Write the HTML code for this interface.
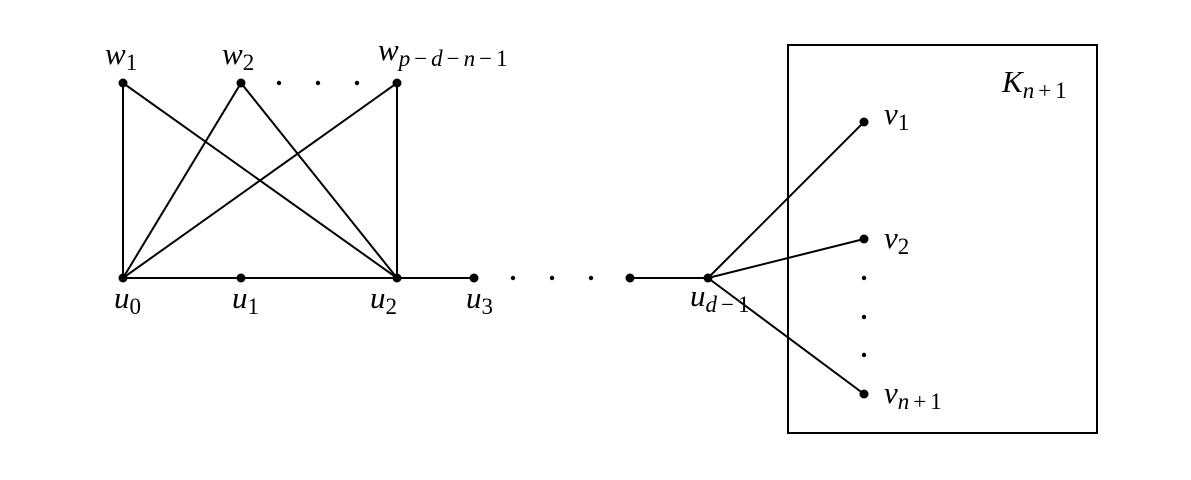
<!DOCTYPE html>
<html><head><style>body{margin:0;background:#fff}svg{display:block}.s{font-size:23px;font-style:normal}</style></head>
<body>
<svg width="1191" height="480" xmlns="http://www.w3.org/2000/svg" font-family="Liberation Serif, serif" font-style="italic">
<g stroke="#000" stroke-width="2" fill="none">
<rect x="788" y="45" width="309" height="388"/>
<line x1="123" y1="83" x2="123" y2="278"/>
<line x1="123" y1="83" x2="397" y2="278"/>
<line x1="241" y1="83" x2="123" y2="278"/>
<line x1="241" y1="83" x2="397" y2="278"/>
<line x1="397" y1="83" x2="123" y2="278"/>
<line x1="397" y1="83" x2="397" y2="278"/>
<line x1="123" y1="278" x2="474" y2="278"/>
<line x1="630" y1="278" x2="708" y2="278"/>
<line x1="708" y1="278" x2="864" y2="122"/>
<line x1="708" y1="278" x2="864" y2="239"/>
<line x1="708" y1="278" x2="864" y2="394"/>
</g>
<g fill="#000">
<circle cx="123" cy="83" r="4.5"/><circle cx="241" cy="83" r="4.5"/><circle cx="397" cy="83" r="4.5"/>
<circle cx="123" cy="278" r="4.5"/><circle cx="241" cy="278" r="4.5"/><circle cx="397" cy="278" r="4.5"/>
<circle cx="474" cy="278" r="4.5"/><circle cx="630" cy="278" r="4.5"/><circle cx="708" cy="278" r="4.5"/>
<circle cx="864" cy="122" r="4.5"/><circle cx="864" cy="239" r="4.5"/><circle cx="864" cy="394" r="4.5"/>
<circle cx="279" cy="83" r="2.2"/><circle cx="318" cy="83" r="2.2"/><circle cx="357" cy="83" r="2.2"/>
<circle cx="513" cy="278" r="2.2"/><circle cx="552" cy="278" r="2.2"/><circle cx="591" cy="278" r="2.2"/>
<circle cx="864" cy="278" r="2.2"/><circle cx="864" cy="317" r="2.2"/><circle cx="864" cy="355" r="2.2"/>
</g>
<g font-size="31" fill="#000">
<text x="105" y="64">w<tspan class="s" dy="6">1</tspan></text>
<text x="222" y="64">w<tspan class="s" dy="6">2</tspan></text>
<text x="378" y="60">w<tspan font-size="23" dy="6">p</tspan><tspan class="s" dx="4">−</tspan><tspan font-size="23" dx="4">d</tspan><tspan class="s" dx="4">−</tspan><tspan font-size="23" dx="4">n</tspan><tspan class="s" dx="4">−</tspan><tspan class="s" dx="4">1</tspan></text>
<text x="114" y="308">u<tspan class="s" dy="6">0</tspan></text>
<text x="232" y="308">u<tspan class="s" dy="6">1</tspan></text>
<text x="370" y="308">u<tspan class="s" dy="6">2</tspan></text>
<text x="466" y="308">u<tspan class="s" dy="6">3</tspan></text>
<text x="690" y="306">u<tspan font-size="23" dy="6">d</tspan><tspan class="s" dx="4">−</tspan><tspan class="s" dx="4">1</tspan></text>
<text x="884" y="124">v<tspan class="s" dy="6">1</tspan></text>
<text x="884" y="248">v<tspan class="s" dy="6">2</tspan></text>
<text x="884" y="403">v<tspan font-size="23" dy="6">n</tspan><tspan class="s" dx="4">+</tspan><tspan class="s" dx="4">1</tspan></text>
<text x="1002" y="92">K<tspan font-size="23" dy="6">n</tspan><tspan class="s" dx="4">+</tspan><tspan class="s" dx="4">1</tspan></text>
</g>
</svg>
</body></html>
